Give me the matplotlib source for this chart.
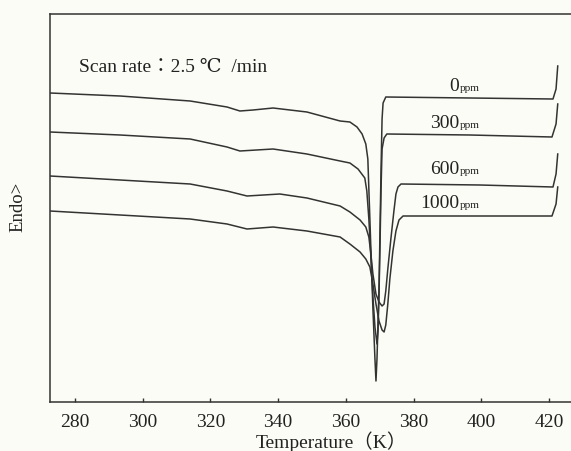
import matplotlib
matplotlib.use("Agg")
import matplotlib.pyplot as plt

# DSC curves (temperature in K, heat flow in arbitrary units)
temp_0 = [272.6, 293.3, 314.0, 324.9, 328.7, 332.6, 338.5, 348.5, 358.3, 361.2, 363.3, 364.8,
          365.9, 366.5, 366.8, 367.4, 368.0, 368.6, 368.9, 369.2, 369.8, 370.1, 370.4, 370.7,
          371.0, 371.8, 396.7, 421.2, 422.1, 422.6]
dsc_0 = [309, 306, 301, 295, 291, 292, 294, 290, 281, 280, 275, 268,
         258, 243, 213, 153, 93, 43, 21, 43, 113, 173, 233, 283,
         299, 305, 304, 303, 313, 336]

temp_300 = [272.6, 293.3, 314.0, 324.9, 328.7, 338.5, 348.5, 358.3, 361.2, 363.6, 365.6, 366.2,
            366.8, 367.4, 368.0, 368.6, 369.2, 369.5, 369.8, 370.1, 370.4, 370.7, 371.3, 372.1,
            396.7, 420.9, 422.1, 422.6]
dsc_300 = [270, 267, 263, 255, 251, 253, 248, 241, 239, 233, 224, 211,
           183, 145, 105, 75, 58, 71, 108, 158, 213, 253, 264, 268,
           267, 265, 278, 298]

temp_600 = [272.6, 293.3, 314.0, 324.9, 330.8, 340.5, 348.5, 358.3, 361.2, 364.2, 365.9, 366.8,
            367.4, 368.0, 368.9, 369.8, 370.7, 371.3, 371.8, 372.4, 373.3, 374.2, 374.8, 375.4,
            376.3, 399.6, 421.2, 422.1, 422.6]
dsc_600 = [226, 222, 218, 211, 206, 208, 204, 196, 190, 182, 175, 165,
           148, 128, 108, 100, 96, 98, 111, 133, 163, 191, 208, 215,
           218, 217, 215, 228, 248]

temp_1000 = [272.6, 293.3, 314.0, 324.9, 330.8, 338.5, 348.5, 358.3, 361.2, 364.2, 365.9, 367.1,
             368.0, 368.9, 369.8, 370.7, 371.3, 371.8, 372.4, 373.0, 373.9, 374.8, 375.7, 376.9,
             399.6, 420.9, 422.1, 422.6]
dsc_1000 = [191, 187, 183, 178, 173, 175, 171, 165, 158, 150, 143, 135,
            118, 98, 81, 72, 70, 77, 98, 123, 151, 171, 182, 186,
            186, 186, 198, 215]

# labels of the curves: (digits, x, y)
conc_labels = [("0", 393.4, 312), ("300", 393.4, 275), ("600", 393.4, 229), ("1000", 393.4, 195)]

x_ticks = [280, 300, 320, 340, 360, 380, 400, 420]

serif = ["Liberation Serif", "DejaVu Serif", "Noto Sans CJK JP"]
ink = "#333333"
txt = "#222222"
paper = "#fcfcf6"

fig = plt.figure(figsize=(5.71, 4.52), dpi=100, facecolor=paper)
ax = fig.add_axes([50 / 571, 49 / 452, 525 / 571, 388 / 452], facecolor=paper)

for t, d in [(temp_0, dsc_0), (temp_300, dsc_300), (temp_600, dsc_600), (temp_1000, dsc_1000)]:
    ax.plot(t, d, color=ink, linewidth=1.1)

ax.set_xlim(272.6, 427.7)
ax.set_ylim(0, 388)
ax.set_xticks(x_ticks)
ax.set_xticklabels([str(v) for v in x_ticks], family=serif, fontsize=14, color=txt)
ax.set_yticks([])
ax.tick_params(axis="x", direction="in", length=3, width=1, color=ink, pad=8)
for s in ax.spines.values():
    s.set_color(ink)
    s.set_linewidth(1.1)

# concentration labels
for num, x, y in conc_labels:
    ax.text(x, y, num, ha="right", va="baseline", family=serif, fontsize=14, color=txt)
    ax.text(x + 0.2, y, "ppm", ha="left", va="baseline", family=serif, fontsize=8, color=txt)

ax.text(281.2, 336, "Scan rate：2.5 ℃  /min", ha="left", va="center", family=serif,
        fontsize=14, color=txt)

fig.text(331 / 571, 1 - 442 / 452, "Temperature（K）", ha="center", va="center",
         family=serif, fontsize=14, color=txt)
fig.text(18 / 571, 1 - 207 / 452, "Endo>", ha="center", va="center", rotation=90,
         family=serif, fontsize=13.5, color=txt)

plt.savefig("out.png", dpi=100, facecolor=paper)
